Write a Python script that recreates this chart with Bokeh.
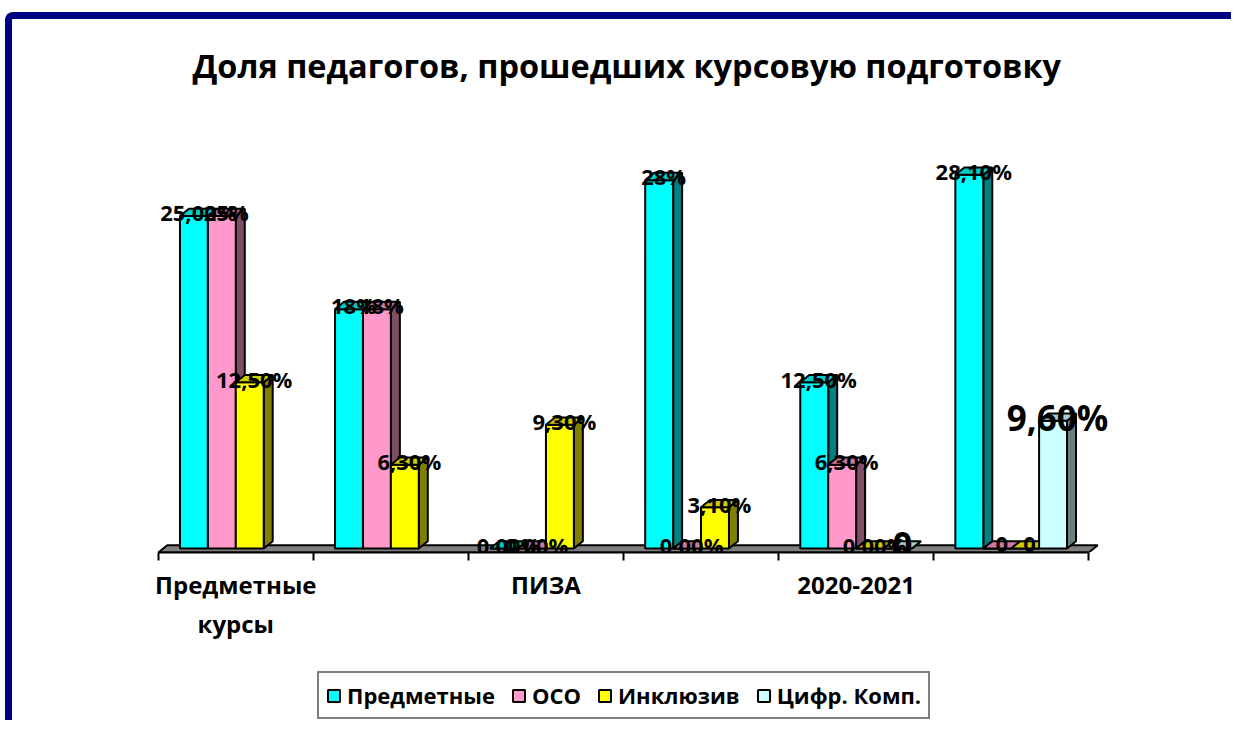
from bokeh.plotting import figure
from bokeh.models import (Range1d, ColumnDataSource, LabelSet, Legend, LegendItem,
                          FixedTicker)
from bokeh.layouts import column
from bokeh.core.properties import value
from bokeh.embed import file_html
from bokeh.resources import INLINE

# ---- data ----
categories = ["Предметные\nкурсы", "", "ПИЗА", "", "2020-2021", ""]
series = ["Предметные", "ОСО", "Инклюзив", "Цифр. Комп."]
predmet = [25.0, 18.0, 0.0, 27.7, 12.5, 28.1]
oso = [25.0, 18.0, 0.0, 0.0, 6.3, 0.0]
inkl = [12.5, 6.3, 9.3, 3.1, 0.0, 0.0]
cifr = [None, None, None, None, 0.0, 9.6]
predmet_labels = ["25,00%", "18%", "0,00%", "28%", "12,50%", "28,10%"]
oso_labels = ["25%", "18%", "0,00%", "0,00%", "6,30%", "0"]
inkl_labels = ["12,50%", "6,30%", "9,30%", "3,10%", "0,00%", "0"]
cifr_labels = [None, None, None, None, "0", "9,60%"]
title_text = "Доля педагогов, прошедших курсовую подготовку"

front_colors = ["#00FFFF", "#FF99CC", "#FFFF00", "#CCFFFF"]
side_colors = ["#008080", "#804D66", "#808000", "#668080"]
top_colors = ["#00CCCC", "#CC7AA3", "#CCCC00", "#A3CCCC"]
label_sizes = ["22px", "22px", "22px", "35px"]
FONT = "Open Sans"
NAVY = "#000080"

W, H = 1226, 640
p = figure(width=W, height=H, x_range=Range1d(-0.55, 5.75), y_range=Range1d(-0.3, 34.29),
           output_backend="svg", toolbar_location=None, y_axis_location=None,
           min_border_left=138, min_border_right=111, min_border_top=73, min_border_bottom=107)
p.styles = {"border-top": f"7px solid {NAVY}", "border-left": f"7px solid {NAVY}",
            "border-top-left-radius": "8px", "margin-top": "12px", "margin-left": "5px"}
p.outline_line_color = None
p.xgrid.visible = False
p.ygrid.visible = False

p.title.text = title_text
p.title.align = "left"
p.title.offset = 42
p.title.text_font = FONT
p.title.text_font_style = "bold"
p.title.text_font_size = "32.5px"
p.title.text_color = "black"

bw = 0.18
offs = [-0.27, -0.09, 0.09, 0.27]
dx = 0.058
dy = 0.55

# floor
fy0, fy1 = -0.3, 0.25
p.patch([-0.5, 5.5, 5.5 + dx, -0.5 + dx], [fy0, fy0, fy1, fy1],
        fill_color="#808080", line_color="black", line_width=2)

all_vals = [predmet, oso, inkl, cifr]
all_labels = [predmet_labels, oso_labels, inkl_labels, cifr_labels]
for s, (vals, labs) in enumerate(zip(all_vals, all_labels)):
    idx = [i for i, v in enumerate(vals) if v is not None]
    cx = [i + offs[s] for i in idx]
    v = [vals[i] for i in idx]
    left = [c - bw / 2 for c in cx]
    right = [c + bw / 2 for c in cx]
    side_xs = [[r, r + dx, r + dx, r] for r in right]
    side_ys = [[0, dy, t + dy, t] for t in v]
    top_xs = [[l, r, r + dx, l + dx] for l, r in zip(left, right)]
    top_ys = [[t, t, t + dy, t + dy] for t in v]
    p.patches(side_xs, side_ys, fill_color=side_colors[s], line_color="black", line_width=2)
    p.quad(left=left, right=right, bottom=[0] * len(v), top=v,
           fill_color=front_colors[s], line_color="black", line_width=2)
    p.patches(top_xs, top_ys, fill_color=top_colors[s], line_color="black", line_width=2)

for s, (vals, labs) in enumerate(zip(all_vals, all_labels)):
    idx = [i for i, v in enumerate(vals) if v is not None]
    src = ColumnDataSource(dict(x=[i + offs[s] + dx / 2 for i in idx],
                                y=[vals[i] + dy / 2 for i in idx],
                                t=[labs[i] for i in idx]))
    p.add_layout(LabelSet(x="x", y="y", text="t", source=src, text_align="center",
                          text_baseline="middle", text_font=value(FONT),
                          text_font_style="bold", text_font_size=label_sizes[s],
                          text_color="black"))

ticks = [i for i, c in enumerate(categories) if c]
p.xaxis.ticker = FixedTicker(ticks=ticks, minor_ticks=[i - 0.5 for i in range(len(categories) + 1)])
p.xaxis.major_label_overrides = {i: categories[i] for i in ticks}
p.xaxis.bounds = (-0.5, 5.5)
p.xaxis.major_tick_out = 0
p.xaxis.major_tick_in = 0
p.xaxis.minor_tick_out = 8
p.xaxis.minor_tick_in = 0
p.xaxis.minor_tick_line_width = 2
p.xaxis.minor_tick_line_color = "black"
p.xaxis.axis_line_width = 2
p.xaxis.axis_line_color = "black"
p.xaxis.major_label_text_font = FONT
p.xaxis.major_label_text_font_style = "bold"
p.xaxis.major_label_text_font_size = "24px"
p.xaxis.major_label_text_color = "black"
p.xaxis.major_label_standoff = 7

# legend strip
p2 = figure(width=W, height=68, x_range=Range1d(0, 1), y_range=Range1d(0, 1),
            output_backend="svg", toolbar_location=None, x_axis_location=None,
            y_axis_location=None, min_border=0)
p2.styles = {"border-left": f"7px solid {NAVY}", "margin-left": "5px"}
p2.outline_line_color = None
p2.xgrid.visible = False
p2.ygrid.visible = False
items = []
for s in range(len(series)):
    # off-screen placeholder so that the legend swatch has a glyph to draw
    r = p2.quad(left=[5], right=[6], bottom=[5], top=[6], fill_color=front_colors[s],
                line_color="black", line_width=2)
    items.append(LegendItem(label=series[s], renderers=[r]))
legend = Legend(items=items, orientation="horizontal", location=(167, 1),
                border_line_color="black", border_line_width=2,
                label_text_font=FONT, label_text_font_style="bold",
                label_text_font_size="22px", label_text_color="black",
                glyph_width=15, glyph_height=15, spacing=16, padding=7,
                label_standoff=6, background_fill_color="white")
p2.add_layout(legend, "center")

layout = column(p, p2, spacing=0)
open("out.html", "w").write(file_html(layout, INLINE))
